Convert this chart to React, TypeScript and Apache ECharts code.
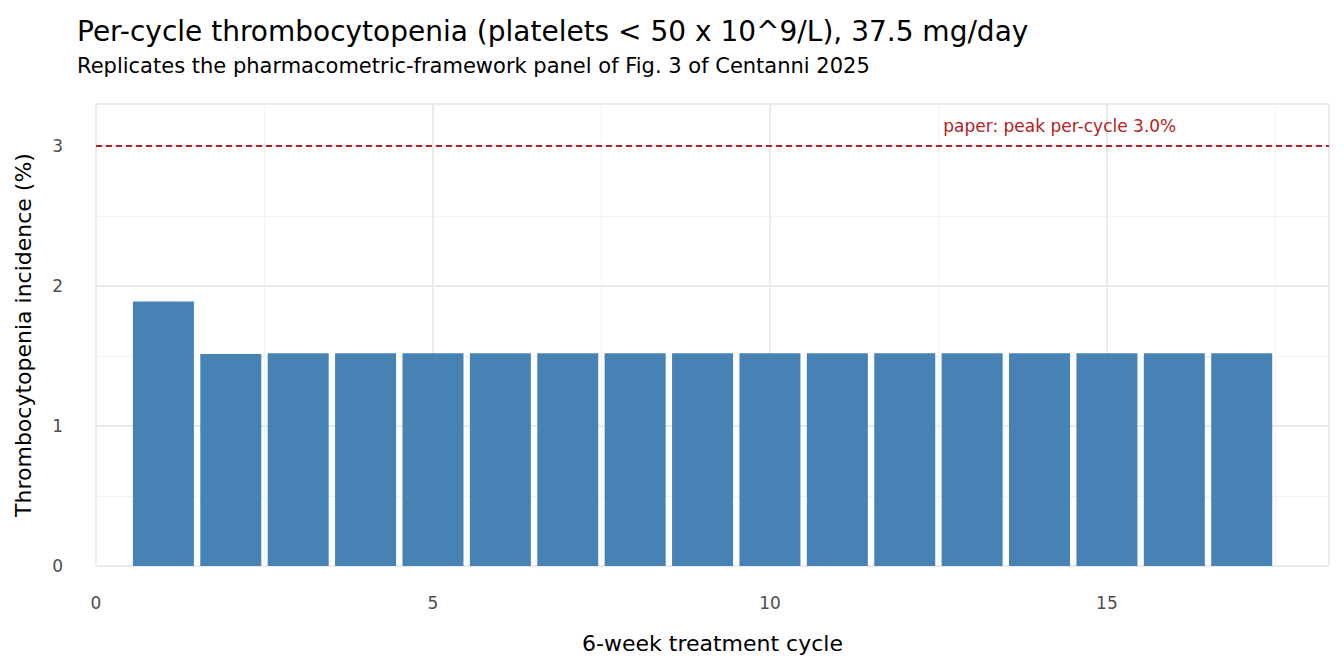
import React, { useEffect, useRef } from "react";
import * as echarts from "echarts";

const cycles = [1, 2, 3, 4, 5, 6, 7, 8, 9, 10, 11, 12, 13, 14, 15, 16, 17];
const incidence = [1.89, 1.515, 1.52, 1.52, 1.52, 1.52, 1.52, 1.52, 1.52, 1.52, 1.52, 1.52, 1.52, 1.52, 1.52, 1.52, 1.52];
const paperPeak = 3.0;

export default function App() {
  const ref = useRef<HTMLDivElement>(null);
  useEffect(() => {
    const chart = echarts.init(ref.current!, null, { renderer: "svg" });
    const font = "DejaVu Sans";
    chart.setOption({
      animation: false,
      textStyle: { fontFamily: font },
      title: {
        text: "Per-cycle thrombocytopenia (platelets < 50 x 10^9/L), 37.5 mg/day",
        subtext: "Replicates the pharmacometric-framework panel of Fig. 3 of Centanni 2025",
        left: 72,
        top: 12,
        itemGap: 10,
        textStyle: { fontSize: 28, fontWeight: "normal", color: "#000", fontFamily: font },
        subtextStyle: { fontSize: 21, color: "#000", fontFamily: font },
      },
      grid: { left: 96, right: 15, top: 104, bottom: 106 },
      xAxis: {
        type: "value",
        min: 0,
        max: 18.295,
        interval: 5,
        name: "6-week treatment cycle",
        nameLocation: "middle",
        nameGap: 66,
        nameTextStyle: { fontSize: 22, color: "#000" },
        axisLine: { show: false },
        axisTick: { show: false },
        axisLabel: { fontSize: 17, color: "#4d4d4d", margin: 28, showMaxLabel: false },
        splitLine: { show: true, lineStyle: { color: "#ebebeb", width: 2 } },
        minorTick: { show: false, splitNumber: 2 },
        minorSplitLine: { show: true, lineStyle: { color: "#f2f2f2", width: 1 } },
      },
      yAxis: {
        type: "value",
        min: 0,
        max: 3.3,
        interval: 1,
        name: "Thrombocytopenia incidence (%)",
        nameLocation: "middle",
        nameGap: 62,
        nameTextStyle: { fontSize: 22, color: "#000" },
        axisLine: { show: false },
        axisTick: { show: false },
        axisLabel: { fontSize: 17, color: "#4d4d4d", margin: 33, showMaxLabel: false },
        splitLine: { show: true, lineStyle: { color: "#ebebeb", width: 2 } },
        minorTick: { show: false, splitNumber: 2 },
        minorSplitLine: { show: true, lineStyle: { color: "#f2f2f2", width: 1 } },
      },
      series: [
        {
          type: "bar",
          data: cycles.map((c, i) => [c, incidence[i]]),
          barWidth: 61,
          itemStyle: { color: "#4682B4" },
          markLine: {
            silent: true,
            symbol: "none",
            label: { show: false },
            lineStyle: { color: "#B22222", type: [6, 4], width: 2 },
            data: [{ yAxis: paperPeak }],
          },
          markPoint: {
            symbolSize: 0,
            label: {
              show: true,
              formatter: "paper: peak per-cycle 3.0%",
              color: "#B22222",
              fontSize: 17,
            },
            data: [{ coord: [14.3, 3.14] }],
          },
        },
      ],
    });
    return () => chart.dispose();
  }, []);
  return <div ref={ref} style={{ position: "absolute", left: 0, top: 0, width: 1344, height: 672 }} />;
}
